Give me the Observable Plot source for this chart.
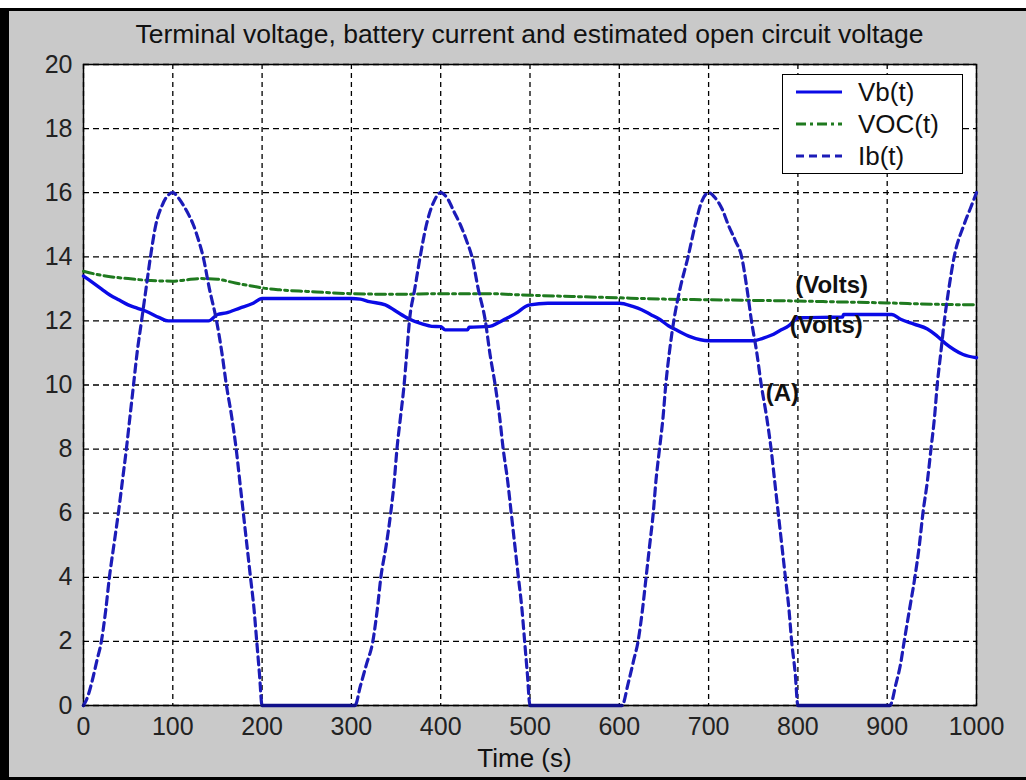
<!DOCTYPE html>
<html><head><meta charset="utf-8">
<script src="https://cdn.jsdelivr.net/npm/d3@7"></script>
<script src="https://cdn.jsdelivr.net/npm/@observablehq/plot@0.6"></script>
<style>
html,body{margin:0;background:#fff;font-family:"Liberation Sans",Arial,sans-serif;overflow:hidden;}
#fig{position:relative;width:1026px;height:780px;overflow:hidden;}
#bg{position:absolute;left:0;top:8px;width:1040px;height:772px;background:#c9c9c9;border-top:3px solid #000;border-left:9px solid #000;border-bottom:3px solid #000;box-sizing:border-box;}
#title{position:absolute;top:19px;left:73px;width:913px;text-align:center;font-size:26.5px;color:#111;white-space:nowrap;}
#xlabel{position:absolute;top:743px;left:73px;width:903px;text-align:center;font-size:26px;color:#111;}
#chart{position:absolute;left:0;top:0;}
#legend{position:absolute;left:782px;top:74px;width:181px;height:100px;background:#fff;border:1.5px solid #000;box-sizing:border-box;}
.row{position:absolute;left:0;height:30px;width:100%;}
.row svg{position:absolute;left:12px;top:0;}
.row span{position:absolute;left:75px;top:1px;font-size:26px;color:#111;line-height:28px;}
</style>
</head><body>
<div id="fig">
  <div id="bg"></div>
  <div id="chart"></div>
  <div id="title">Terminal voltage, battery current and estimated open circuit voltage</div>
  <div id="xlabel">Time (s)</div>
  <div id="legend"></div>
</div>
<script>
// ---- data ----
const ibTime = [0,5,10,15,20,25,29,34,39,44,48,52,56,60,65,70,75,81,88,94,100,106,112,118,123,129,134,141,149,155,160,166,171,175,179,183,187,191,194,197,200,300,
  304,310,317,324,329,333,339,344,348,351,355,359,362,365,371,377,384,392,400,408,415,422,429,435,442,450,455,461,466,470,475,479,483,487,491,494,497,500,600,
  603,610,616,621,626,630,634,638,641,645,649,652,656,661,668,677,685,692,700,707,715,722,730,737,743,748,754,759,765,770,774,778,782,786,790,793,797,800,900,
  903,910,915,919,925,931,936,940,945,949,953,956,960,964,969,975,986,993,1000];
const ibValue = [0,0.3,0.8,1.4,2.0,3.0,4.0,5.0,6.0,7.1,8.0,9.0,10.0,11.0,12.0,13.0,14.0,15.0,15.6,15.9,16.0,15.85,15.6,15.3,15.0,14.5,14.0,13.0,12.0,11.0,10.0,9.0,8.0,7.0,6.0,5.0,4.0,3.0,2.0,1.0,0,0,
  0,0.6,1.3,2.0,3.0,4.0,5.0,6.0,7.0,8.0,9.0,10.0,11.0,12.0,13.0,14.0,15.0,15.7,16.0,15.8,15.4,15.0,14.5,14.0,13.0,12.0,11.0,10.0,9.0,8.0,7.0,6.0,5.0,4.0,3.0,2.0,1.0,0,0,
  0,0.7,1.4,2.0,3.0,4.0,5.0,6.0,7.0,8.0,9.0,10.0,11.0,12.0,13.0,14.0,15.0,15.7,16.0,15.85,15.5,15.0,14.5,14.0,13.0,12.0,11.0,10.0,9.0,8.0,7.0,6.0,5.0,4.0,3.0,2.0,1.0,0,0,
  0,0.7,1.3,2.0,3.0,4.0,5.0,6.0,7.0,8.0,9.0,10.0,11.0,12.0,13.0,14.0,15.0,15.5,16.0];

const vbTime = [0,10,20,30,40,50,60,70,85,95,100,140,150,160,175,190,200,300,310,320,338,350,364,380,390,400,405,430,432,455,465,475,485,495,500,520,600,615,625,635,645,655,665,680,700,750,760,770,780,790,800,850,851,905,915,930,945,955,965,975,985,1000];
const vbValue = [13.4,13.2,13.0,12.8,12.65,12.5,12.4,12.3,12.1,12.0,12.0,12.0,12.2,12.25,12.4,12.55,12.7,12.7,12.68,12.6,12.5,12.3,12.07,11.9,11.83,11.82,11.72,11.72,11.8,11.83,11.95,12.1,12.25,12.45,12.5,12.55,12.55,12.45,12.35,12.2,12.05,11.85,11.7,11.5,11.38,11.38,11.45,11.55,11.7,11.85,12.1,12.12,12.2,12.2,12.05,11.9,11.75,11.55,11.3,11.1,10.95,10.85];

const vocTime = [0,15,30,50,70,100,115,130,150,170,190,200,220,250,300,350,400,450,500,550,600,650,700,750,800,850,900,950,1000];
const vocValue = [13.55,13.45,13.38,13.32,13.27,13.24,13.28,13.32,13.3,13.18,13.08,13.03,12.97,12.92,12.85,12.83,12.85,12.85,12.8,12.76,12.72,12.68,12.66,12.64,12.62,12.59,12.56,12.52,12.5];

const xTicks = [0,100,200,300,400,500,600,700,800,900,1000];
const yTicks = [0,2,4,6,8,10,12,14,16,18,20];

const annoText = ["(Volts)","(Volts)","(A)"];
const annoT = [797,791,764];
const annoV = [13.1,11.86,9.73];

const seriesNames = ["Vb(t)","VOC(t)","Ib(t)"];
const seriesColors = ["#0a0ae6","#1f7a1f","#1c1cb8"];
const seriesDash = [null,"10,4,3,4","8,5"];

// ---- build ----
const ib = ibTime.map((t,i)=>({t, v: ibValue[i]}));
const vb = vbTime.map((t,i)=>({t, v: vbValue[i]}));
const voc = vocTime.map((t,i)=>({t, v: vocValue[i]}));
const anno = annoText.map((s,i)=>({s, t: annoT[i], v: annoV[i]}));

const chart = Plot.plot({
  width: 1026, height: 780,
  marginLeft: 83, marginRight: 50, marginTop: 64, marginBottom: 75,
  style: {background: "transparent", fontFamily: "'Liberation Sans', Arial, sans-serif", color: "#222"},
  x: {domain: [0,1000]},
  y: {domain: [0,20]},
  marks: [
    Plot.frame({fill: "white", stroke: null}),
    Plot.gridX(xTicks, {stroke: "#000", strokeOpacity: 1, strokeWidth: 1.3, strokeDasharray: "5,4"}),
    Plot.gridY(yTicks, {stroke: "#000", strokeOpacity: 1, strokeWidth: 1.3, strokeDasharray: "6,4"}),
    Plot.frame({stroke: "#000", strokeWidth: 1.5}),
    Plot.axisX(xTicks, {tickSize: 0, tickPadding: 12, fontSize: 25, label: null, tickFormat: d => String(d)}),
    Plot.axisY(yTicks, {tickSize: 0, tickPadding: 11, fontSize: 25, label: null, tickFormat: d => String(d)}),
    Plot.line(voc, {x: "t", y: "v", stroke: seriesColors[1], strokeWidth: 3, strokeDasharray: seriesDash[1], curve: "monotone-x"}),
    Plot.line(vb, {x: "t", y: "v", stroke: seriesColors[0], strokeWidth: 3.4, curve: "monotone-x"}),
    Plot.line(ib, {x: "t", y: "v", stroke: seriesColors[2], strokeWidth: 3.2, strokeDasharray: seriesDash[2], curve: "monotone-x"}),
    Plot.line(ib, {filter: d => d.v === 0, x: "t", y: "v", z: d => Math.round(d.t / 300), stroke: "#10108a", strokeWidth: 3.4}),
    Plot.text(anno, {x: "t", y: "v", text: "s", textAnchor: "start", fontWeight: "bold", fontSize: 24, fill: "#111"})
  ]
});
document.getElementById("chart").appendChild(chart);

// legend
const leg = document.getElementById("legend");
const rowTops = [2, 34, 66];
seriesNames.forEach((name,i)=>{
  const row = document.createElement("div");
  row.className = "row";
  row.style.top = rowTops[i] + "px";
  const ns = "http://www.w3.org/2000/svg";
  const s = document.createElementNS(ns, "svg");
  s.setAttribute("width", 50); s.setAttribute("height", 30);
  const l = document.createElementNS(ns, "line");
  l.setAttribute("x1", 1); l.setAttribute("x2", 47);
  l.setAttribute("y1", 15); l.setAttribute("y2", 15);
  l.setAttribute("stroke", seriesColors[i]);
  l.setAttribute("stroke-width", 3);
  if (seriesDash[i]) l.setAttribute("stroke-dasharray", seriesDash[i]);
  s.appendChild(l);
  row.appendChild(s);
  const sp = document.createElement("span");
  sp.textContent = name;
  row.appendChild(sp);
  leg.appendChild(row);
});
</script>
</body></html>
